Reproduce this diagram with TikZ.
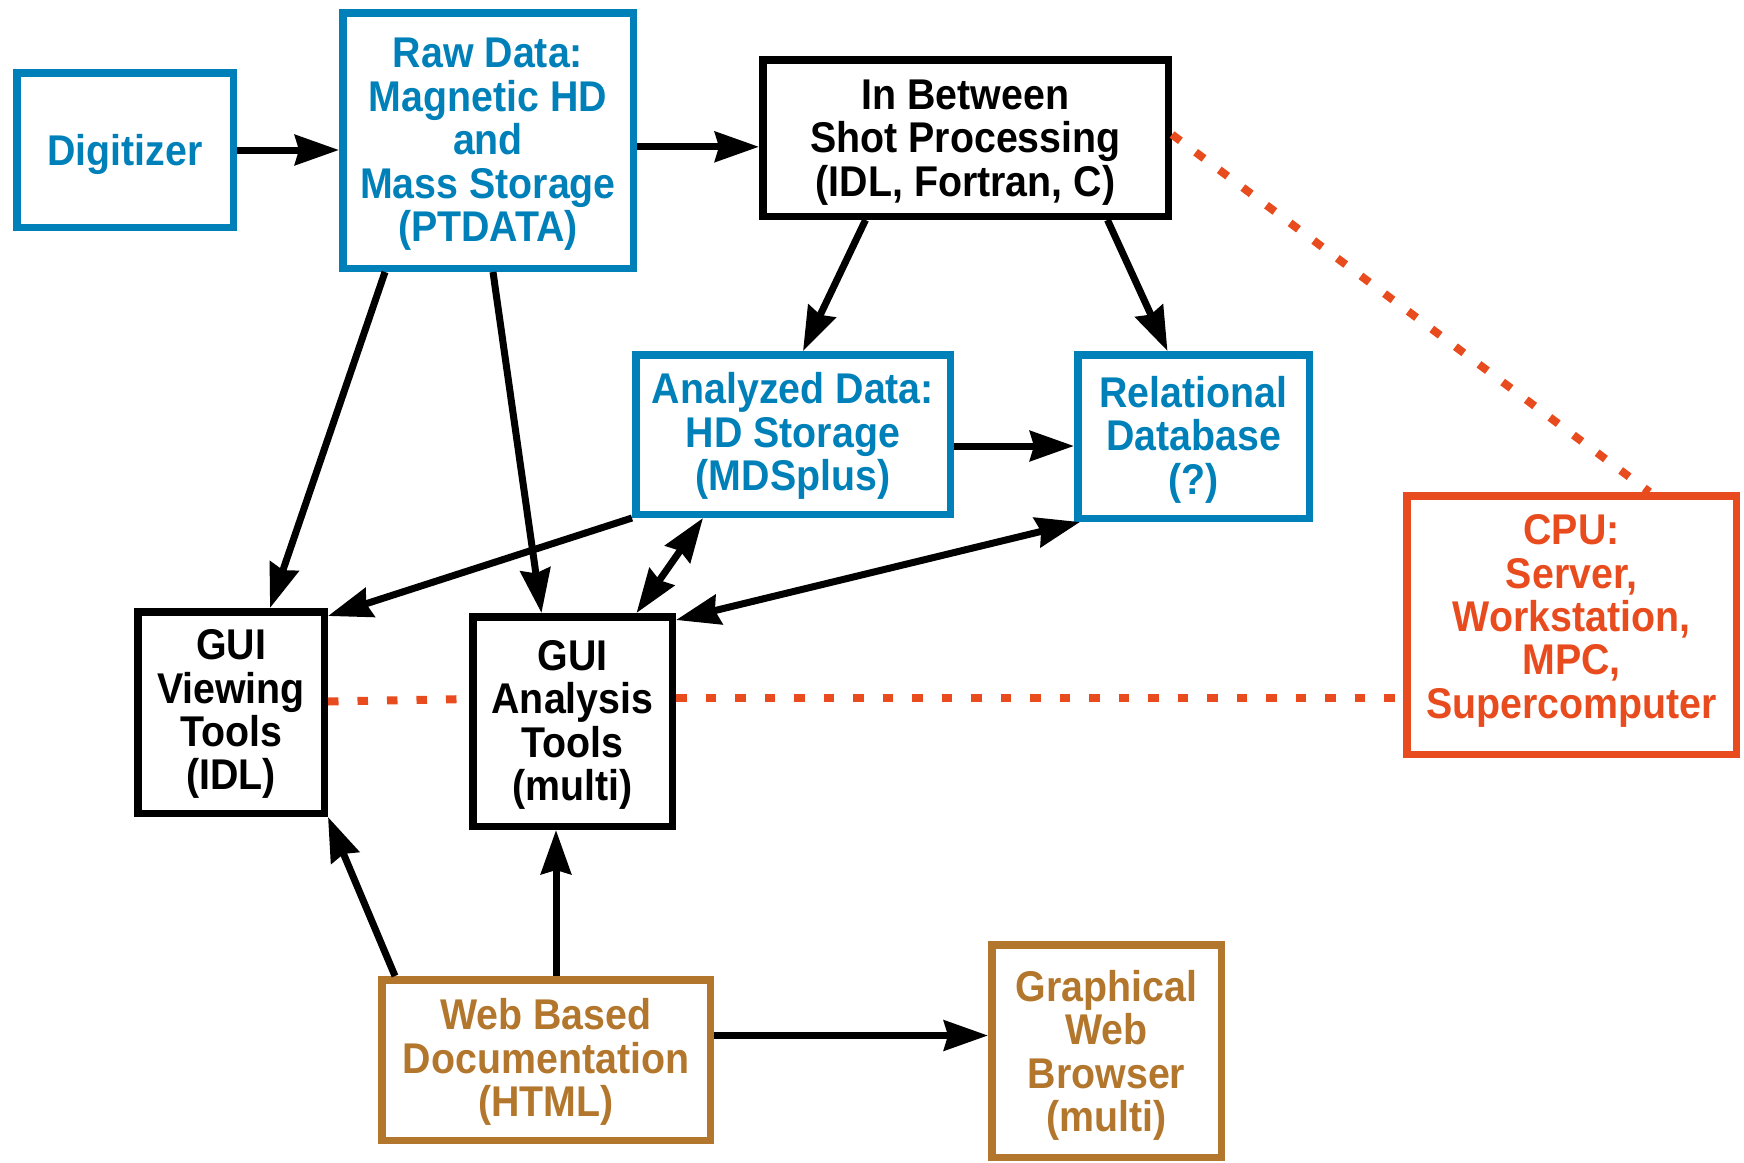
\documentclass[tikz,border=0pt]{standalone}
\usepackage{fontspec}
\setmainfont{Liberation Sans}[FakeStretch=0.915]
\usetikzlibrary{arrows.meta,calc}
\definecolor{dblue}{RGB}{0,128,185}
\definecolor{dorange}{RGB}{232,76,30}
\definecolor{dbrown}{RGB}{178,118,44}
\tikzset{
  box/.style={draw, line width=7.5pt, inner sep=0pt, align=center,
    font={\fontsize{43}{43.4}\selectfont\bfseries}},
  bluebox/.style={box, draw=dblue, text=dblue},
  blackbox/.style={box, draw=black, text=black},
  redbox/.style={box, draw=dorange, text=dorange},
  brownbox/.style={box, draw=dbrown, text=dbrown},
  tipa/.tip={Stealth[length=44pt,width=30pt,inset=4pt]},
  arr/.style={line width=7pt, -tipa},
  darr/.style={line width=7pt, tipa-tipa},
  dots/.style={draw=dorange, line width=8pt, dash pattern=on 10.5pt off 19pt}
}
\begin{document}
\begin{tikzpicture}[x=1pt,y=-1pt]
\useasboundingbox (0,0) rectangle (1744,1162);
\node[bluebox, minimum width=216.5pt, minimum height=154.5pt, text depth=-4pt] (dig) at (125,150) {Digitizer};
\node[bluebox, minimum width=290.5pt, minimum height=255.5pt, text depth=1pt] (raw) at (488,140.5) {Raw Data:\\Magnetic HD\\and\\Mass Storage\\(PTDATA)};
\node[blackbox, minimum width=405.5pt, minimum height=156.5pt, text depth=-2pt] (ib) at (965.5,138) {In Between\\Shot Processing\\(IDL, Fortran, C)};
\node[bluebox, minimum width=314.5pt, minimum height=159.5pt, text depth=5.4pt] (ana) at (793,434.5) {Analyzed Data:\\HD Storage\\(MDSplus)};
\node[bluebox, minimum width=231.5pt, minimum height=163.5pt, text depth=2.2pt] (rel) at (1193.5,436.5) {Relational\\Database\\(?)};
\node[redbox, minimum width=329.5pt, minimum height=258.5pt, text depth=17pt] (cpu) at (1571.5,625) {CPU:\\Server,\\Workstation,\\MPC,\\Supercomputer};
\node[blackbox, minimum width=186.5pt, minimum height=201.5pt, text depth=5.4pt] (gv) at (231,712.5) {GUI\\Viewing\\Tools\\(IDL)};
\node[blackbox, minimum width=199.5pt, minimum height=209.5pt, text depth=2.2pt] (ga) at (572.5,721.5) {GUI\\Analysis\\Tools\\(multi)};
\node[brownbox, minimum width=328.5pt, minimum height=160.5pt, text depth=4.4pt] (web) at (546,1060) {Web Based\\Documentation\\(HTML)};
\node[brownbox, minimum width=229.5pt, minimum height=212.5pt, text depth=-2pt] (gwb) at (1106.5,1051) {Graphical\\Web\\Browser\\(multi)};

\coordinate (c2) at ($(raw.east)+(0,6.3)$);
\coordinate (c7) at ($(ana.east)+(0,11.5)$);
\coordinate (c12) at ($(web.north)+(10,0)$);
\coordinate (c13) at ($(web.east)+(0,-24.5)$);
\coordinate (c15) at ($(ga.east)+(0,-24)$);

\draw[arr] (dig.east) -- (dig.east -| raw.west);
\draw[arr] (c2) -- (c2 -| ib.west);
\draw[arr] ($(raw.south)+(-103,0)$) -- ($(gv.north)+(39,0)$);
\draw[arr] ($(raw.south)+(5,0)$) -- ($(ga.north)+(-31,0)$);
\draw[arr] ($(ib.south)+(-100,0)$) -- ($(ana.north)+(10,0)$);
\draw[arr] ($(ib.south)+(142,0)$) -- ($(rel.north)+(-26,0)$);
\draw[arr] (c7) -- (c7 -| rel.west);
\draw[arr] (ana.south west) -- ($(gv.north east)+(0,8)$);
\draw[darr] ($(ana.south)+(-90,0)$) -- ($(ga.north)+(64,0)$);
\draw[darr] ($(rel.south west)+(6,0)$) -- ($(ga.north east)+(0,7)$);
\draw[arr] ($(web.north)+(-151,0)$) -- (gv.south east);
\draw[arr] (c12) -- (c12 |- ga.south);
\draw[arr] (c13) -- (c13 -| gwb.west);

\draw[dots] ($(gv.east)+(0,-11)$) -- ($(ga.west)+(0,-22.5)$);
\draw[dots] (c15) -- (c15 -| cpu.west);
\draw[dots] ($(ib.east)+(0,-3.5)$) -- ($(cpu.north)+(78,0)$);
\end{tikzpicture}
\end{document}
